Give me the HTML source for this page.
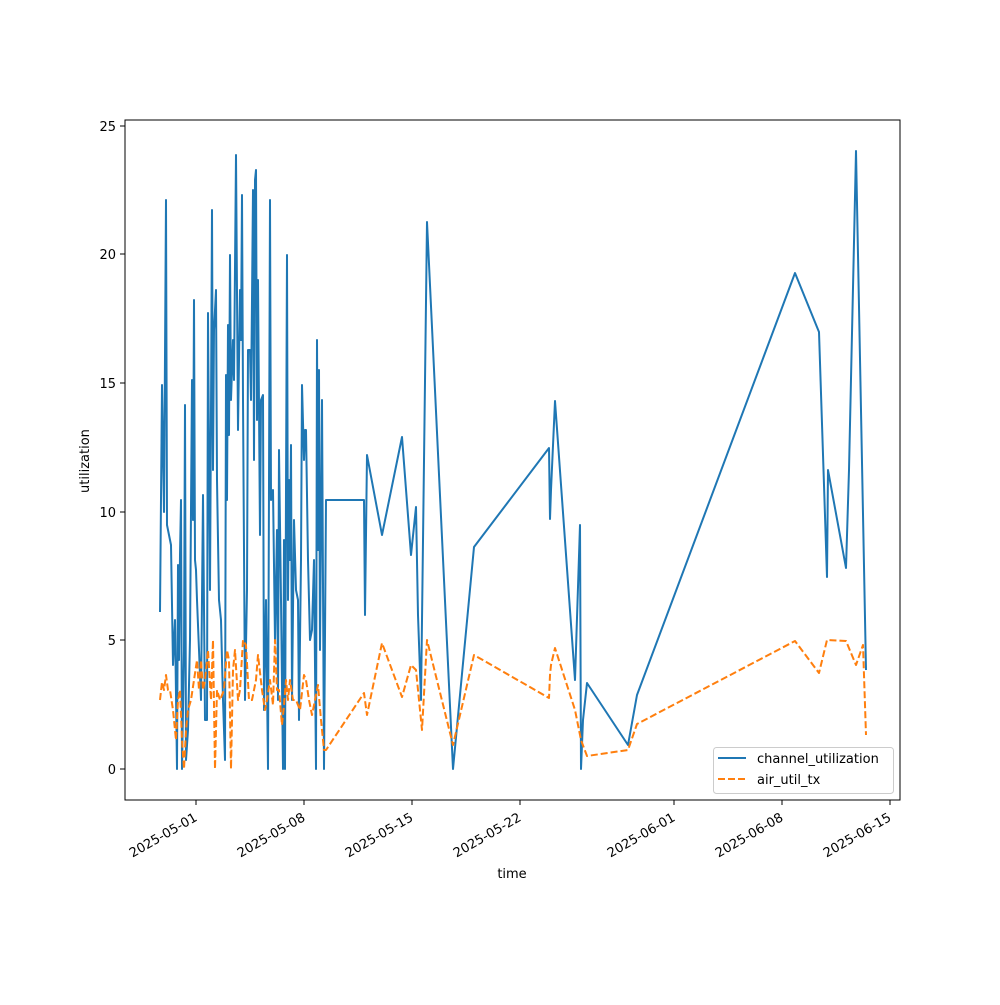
<!DOCTYPE html>
<html><head><style>body{margin:0;background:#fff}</style></head><body>
<svg width="1000" height="1000" xmlns="http://www.w3.org/2000/svg" font-family="DejaVu Sans, Liberation Sans, sans-serif" font-size="13">
<rect width="1000" height="1000" fill="#fff"/>
<clipPath id="c"><rect x="125" y="120" width="775" height="680"/></clipPath>
<g clip-path="url(#c)" fill="none" stroke-width="2" stroke-linejoin="round">
<polyline stroke="#1f77b4" points="160,612 162,385 164,512 166,200 167,525 171,545 173,665 175,620 177,769 178,565 179,660 180,555 181,500 182,769 184,650 185,405 186,760 188,730 190,640 192,380 193,520 194,300 195,560 196,570 197,600 199,650 201,700 203,495 205,720 207,720 208,313 210,590 211,410 212,210 213,470 214,330 216,290 217,480 219,600 221,620 223,700 225,760 226,375 227,500 228,325 229,435 230,255 231,400 233,340 234,380 236,155 238,430 240,290 241,340 242,195 243,400 245,700 247,590 248,350 250,350 251,400 252,300 253,190 254,460 255,180 256,170 257,420 258,280 260,535 261,400 263,395 264,710 266,600 268,769 270,200 271,500 273,490 275,640 277,530 278,700 279,450 281,600 283,769 284,540 285,769 286,490 287,255 288,600 289,480 290,560 291,445 292,700 294,520 296,590 298,600 299,720 301,560 302,385 304,460 305,430 306,430 308,560 310,640 312,630 314,560 316,769 317,340 318,550 319,370 320,650 322,400 324,769 326,500 364,500 365,615 367,455 382,535 402,437 411,555 416,507 418,615 421,700 427,222 453,769 474,547 549,448 550,519 551,490 555,401 575,680 580,525 581,769 583,720 587,683 628,745 637,695 795,273 819,332 827,577 828,470 846,568 849,470 856,151 866,670"/>
<polyline stroke="#ff7f0e" stroke-dasharray="7,3" points="160,700 162,682 164,690 166,675 168,690 170,690 173,710 176,740 178,700 180,690 182,740 184,769 186,730 188,710 191,700 194,680 197,660 199,690 201,660 203,690 205,680 208,650 211,700 213,640 215,769 217,690 220,700 224,690 227,650 229,660 231,769 233,670 235,650 238,700 240,690 243,640 246,645 249,700 252,700 256,680 258,655 262,690 265,710 267,700 270,680 273,705 275,640 277,690 279,690 282,725 284,705 286,680 288,700 290,680 293,700 296,700 300,710 304,675 306,680 309,700 312,715 315,700 318,685 321,720 324,750 326,750 364,693 367,715 382,643 402,697 411,665 416,670 422,730 427,640 453,745 474,655 549,698 550,675 551,665 555,648 575,710 581,740 587,756 628,750 637,724 795,641 819,673 827,640 846,641 856,665 863,645 866,735"/>
</g>
<rect x="125" y="120" width="775" height="680" fill="none" stroke="#000" stroke-width="1"/>
<g stroke="#000">
<line x1="125" y1="769" x2="120" y2="769"/><line x1="125" y1="640" x2="120" y2="640"/><line x1="125" y1="512" x2="120" y2="512"/><line x1="125" y1="383" x2="120" y2="383"/><line x1="125" y1="254" x2="120" y2="254"/><line x1="125" y1="126" x2="120" y2="126"/>
<line x1="196" y1="800" x2="196" y2="805"/><line x1="304" y1="800" x2="304" y2="805"/><line x1="412" y1="800" x2="412" y2="805"/><line x1="520" y1="800" x2="520" y2="805"/><line x1="674" y1="800" x2="674" y2="805"/><line x1="782" y1="800" x2="782" y2="805"/><line x1="890" y1="800" x2="890" y2="805"/>
</g>
<g text-anchor="end">
<text x="116" y="774">0</text><text x="116" y="645">5</text><text x="116" y="517">10</text><text x="116" y="388">15</text><text x="116" y="259">20</text><text x="116" y="131">25</text>
</g>
<g text-anchor="end">
<text transform="translate(198,820) rotate(-30)">2025-05-01</text>
<text transform="translate(306,820) rotate(-30)">2025-05-08</text>
<text transform="translate(414,820) rotate(-30)">2025-05-15</text>
<text transform="translate(522,820) rotate(-30)">2025-05-22</text>
<text transform="translate(676,820) rotate(-30)">2025-06-01</text>
<text transform="translate(784,820) rotate(-30)">2025-06-08</text>
<text transform="translate(892,820) rotate(-30)">2025-06-15</text>
</g>
<text x="512" y="878" text-anchor="middle">time</text>
<text transform="translate(89,461) rotate(-90)" text-anchor="middle">utilization</text>
<rect x="713.5" y="747.5" width="180" height="46" rx="3" fill="#fff" stroke="#ccc"/>
<line x1="718" y1="758" x2="746" y2="758" stroke="#1f77b4" stroke-width="2"/>
<line x1="718" y1="779" x2="746" y2="779" stroke="#ff7f0e" stroke-width="2" stroke-dasharray="7,3"/>
<text x="757" y="763">channel_utilization</text>
<text x="757" y="784">air_util_tx</text>
</svg>
</body></html>
